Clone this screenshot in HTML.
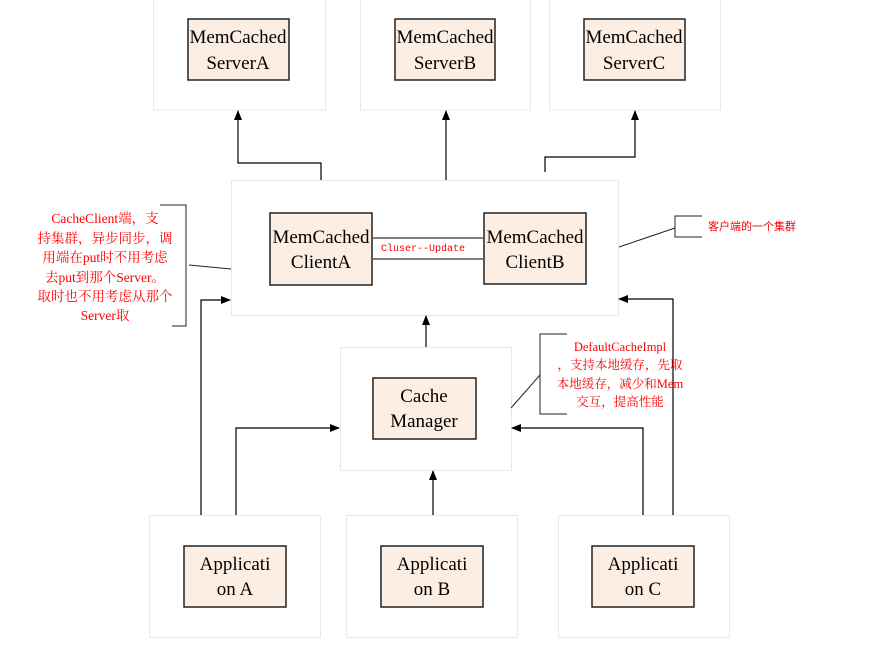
<!DOCTYPE html>
<html><head><meta charset="utf-8"><style>
body{margin:0;background:#fff}
svg text{font-family:"Liberation Serif","Noto Serif CJK SC",serif}
.r{fill:#f00;font-family:"Liberation Mono","Noto Sans CJK SC",monospace}
</style></head><body>
<svg width="886" height="644" viewBox="0 0 886 644" xmlns="http://www.w3.org/2000/svg">
<defs><marker id="a" markerWidth="10" markerHeight="10" refX="9" refY="5" orient="auto" markerUnits="userSpaceOnUse"><path d="M0,1 L10,5 L0,9z" fill="#000"/></marker></defs>
<g fill="#fff" stroke="#e8e8e8">
<rect x="153.5" y="-1" width="172" height="111"/><rect x="360.5" y="-1" width="170" height="111"/><rect x="549.5" y="-1" width="171" height="111"/>
<rect x="231.5" y="180.5" width="387" height="135"/>
<rect x="340.5" y="347.5" width="171" height="123"/>
<rect x="149.5" y="515.5" width="171" height="122"/><rect x="346.5" y="515.5" width="171" height="122"/><rect x="558.5" y="515.5" width="171" height="122"/>
</g>
<g fill="#fdeee3" stroke="#222" stroke-width="1.5">
<rect x="188" y="19" width="101" height="61"/><rect x="395" y="19" width="100" height="61"/><rect x="584" y="19" width="101" height="61"/>
<rect x="270" y="213" width="102" height="72"/><rect x="484" y="213" width="102" height="71"/>
<rect x="373" y="378" width="103" height="61"/>
<rect x="184" y="546" width="102" height="61"/><rect x="381" y="546" width="102" height="61"/><rect x="592" y="546" width="102" height="61"/>
</g>
<g fill="none" stroke="#000" stroke-width="1.2">
<path d="M321,180 V163 H238 V111" marker-end="url(#a)"/>
<path d="M446,180 V111" marker-end="url(#a)"/>
<path d="M545,172 V157 H635 V111" marker-end="url(#a)"/>
<path d="M426,347 V316" marker-end="url(#a)"/>
<path d="M201,515 V300 H230" marker-end="url(#a)"/>
<path d="M236,515 V428 H339" marker-end="url(#a)"/>
<path d="M433,515 V471" marker-end="url(#a)"/>
<path d="M673,515 V299 H619" marker-end="url(#a)"/>
<path d="M643,515 V428 H512" marker-end="url(#a)"/>
</g>
<g stroke="#555" stroke-width="1.5"><path d="M372,238 H484 M372,259 H484"/></g>
<g fill="none" stroke="#222" stroke-width="1">
<path d="M160,205 H186 V326 H172"/><path d="M189,265 L231,269"/>
<path d="M702,216 H675 V237 H702"/><path d="M619,247 L675,228"/>
<path d="M567,334 H540 V414 H567"/><path d="M511,408 L540,375"/>
</g>
<g font-size="19" text-anchor="middle" fill="#000">
<text x="238" y="43">MemCached</text><text x="238" y="69">ServerA</text>
<text x="445" y="43">MemCached</text><text x="445" y="69">ServerB</text>
<text x="634" y="43">MemCached</text><text x="634" y="69">ServerC</text>
<text x="321" y="243">MemCached</text><text x="321" y="268">ClientA</text>
<text x="535" y="243">MemCached</text><text x="535" y="268">ClientB</text>
<text x="424" y="402">Cache</text><text x="424" y="427">Manager</text>
<text x="235" y="570">Applicati</text><text x="235" y="595">on A</text>
<text x="432" y="570">Applicati</text><text x="432" y="595">on B</text>
<text x="643" y="570">Applicati</text><text x="643" y="595">on C</text>
</g>
<text class="r" x="423" y="251" font-size="10" text-anchor="middle">Cluser--Update</text>
<g class="r" font-size="13.5" text-anchor="middle">
<text x="105" y="223">CacheClient端，支</text>
<text x="105" y="243">持集群，异步同步，调</text>
<text x="105" y="262">用端在put时不用考虑</text>
<text x="105" y="282">去put到那个Server。</text>
<text x="105" y="301">取时也不用考虑从那个</text>
<text x="105" y="320">Server取</text>
</g>
<text class="r" x="708" y="230" font-size="11">客户端的一个集群</text>
<g class="r" font-size="12.5" text-anchor="middle">
<text x="620" y="351">DefaultCacheImpl</text>
<text x="620" y="369">，支持本地缓存，先取</text>
<text x="620" y="388">本地缓存，减少和Mem</text>
<text x="620" y="406">交互，提高性能</text>
</g>
</svg>
</body></html>
